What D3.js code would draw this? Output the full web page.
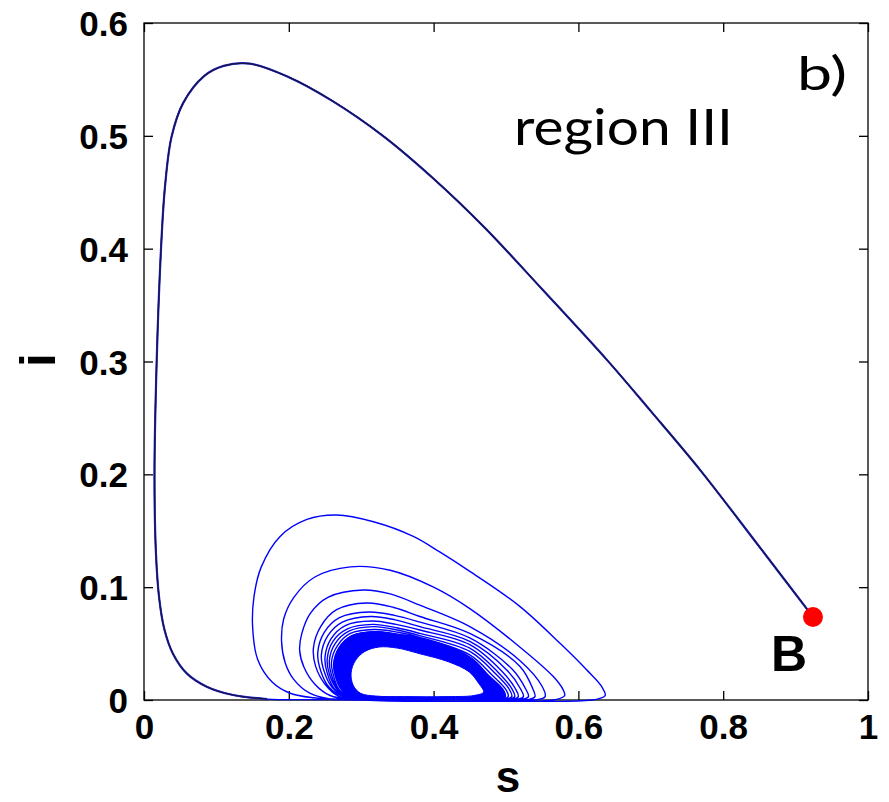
<!DOCTYPE html>
<html><head><meta charset="utf-8">
<script src="https://cdn.jsdelivr.net/npm/d3@7/dist/d3.min.js"></script>
<style>html,body{margin:0;padding:0;background:#fff;}</style>
</head><body>
<svg id="chart" width="889" height="802"></svg>
<script>
// ---- data (s, i) ----
const xTicks = [0, 0.2, 0.4, 0.6, 0.8, 1];
const yTicks = [0, 0.1, 0.2, 0.3, 0.4, 0.5, 0.6];
const xTickLabels = ["0", "0.2", "0.4", "0.6", "0.8", "1"];
const yTickLabels = ["0", "0.1", "0.2", "0.3", "0.4", "0.5", "0.6"];
const pointB = [0.924, 0.0736];

// first excursion from B (dark trajectory)
const mainPath = [[0.924,0.0736],[0.845,0.140],[0.768,0.204],[0.700,0.256],[0.640,0.301],[0.550,0.364],
  [0.470,0.419],[0.400,0.462],[0.330,0.500],[0.260,0.531],[0.200,0.552],[0.146,0.564],[0.110,0.562],
  [0.083,0.553],[0.054,0.529],[0.038,0.499],[0.029,0.455],[0.0235,0.400],[0.0175,0.300],[0.0145,0.200],
  [0.0165,0.130],[0.021,0.090],[0.028,0.063],[0.040,0.041],[0.059,0.0236],[0.0866,0.0118],
  [0.123,0.0044],[0.17,0.0008],[0.25,0.0004]];

// successive loops of the spiral (counter-clockwise)
const loop1 = [[0.625,0.0006],[0.637,0.004],[0.632,0.012],[0.611,0.027],[0.575,0.050],[0.519,0.083],
  [0.450,0.114],[0.409,0.131],[0.372,0.145],[0.317,0.158],[0.266,0.164],[0.225,0.160],[0.188,0.145],
  [0.162,0.118],[0.152,0.092],[0.150,0.065],[0.157,0.036],[0.177,0.016],[0.202,0.006],[0.234,0.002],[0.28,0.0006]];
const loop2 = [[0.570,0.0006],[0.581,0.004],[0.579,0.009],[0.565,0.021],[0.519,0.047],[0.450,0.081],
  [0.400,0.100],[0.340,0.115],[0.285,0.118],[0.236,0.109],[0.207,0.091],[0.193,0.072],[0.190,0.052],
  [0.195,0.033],[0.206,0.019],[0.229,0.006],[0.257,0.001],[0.29,0.0006]];
const loop3 = [[0.545,0.0006],[0.554,0.003],[0.550,0.012],[0.519,0.035],[0.450,0.065],[0.381,0.084],
  [0.340,0.094],[0.303,0.0975],[0.254,0.091],[0.230,0.077],[0.218,0.059],[0.215,0.044],[0.221,0.029],
  [0.236,0.014],[0.257,0.004],[0.29,0.0006]];
const loop4 = [[0.532,0.0006],[0.540,0.003],[0.537,0.010],[0.519,0.030],[0.450,0.059],[0.381,0.074],
  [0.345,0.082],[0.308,0.086],[0.266,0.080],[0.244,0.065],[0.234,0.046],[0.237,0.030],[0.250,0.014],
  [0.270,0.003],[0.30,0.0006]];
const loop5 = [[0.522,0.0006],[0.531,0.003],[0.527,0.010],[0.509,0.027],[0.450,0.055],[0.381,0.069],
  [0.346,0.075],[0.311,0.078],[0.270,0.073],[0.249,0.060],[0.240,0.042],[0.244,0.026],[0.256,0.011],
  [0.275,0.003],[0.30,0.0006]];
const loop6 = [[0.515,0.0006],[0.524,0.003],[0.520,0.010],[0.502,0.026],[0.450,0.052],[0.381,0.065],
  [0.347,0.071],[0.313,0.074],[0.274,0.069],[0.254,0.057],[0.245,0.040],[0.249,0.025],[0.260,0.011],
  [0.278,0.003],[0.30,0.0006]];
const loop7 = [[0.508,0.0006],[0.517,0.003],[0.513,0.010],[0.495,0.025],[0.450,0.049],[0.381,0.062],
  [0.348,0.067],[0.315,0.070],[0.278,0.066],[0.258,0.054],[0.250,0.038],[0.253,0.024],[0.263,0.010],
  [0.280,0.003],[0.30,0.0006]];
const loop8 = [[0.503,0.0006],[0.512,0.003],[0.508,0.010],[0.490,0.024],[0.450,0.046],[0.381,0.059],
  [0.349,0.064],[0.316,0.067],[0.281,0.063],[0.261,0.052],[0.253,0.036],[0.256,0.023],[0.266,0.010],
  [0.282,0.003],[0.30,0.0006]];
const loop9 = [[0.499,0.0006],[0.508,0.003],[0.504,0.010],[0.486,0.023],[0.450,0.043],[0.381,0.057],
  [0.350,0.062],[0.317,0.065],[0.283,0.061],[0.264,0.050],[0.256,0.035],[0.259,0.022],[0.268,0.010],
  [0.284,0.003],[0.30,0.0006]];
const loop10 = [[0.494,0.0006],[0.503,0.003],[0.499,0.010],[0.481,0.022],[0.450,0.040],[0.381,0.0555],
  [0.351,0.060],[0.318,0.0625],[0.285,0.059],[0.267,0.048],[0.259,0.034],[0.262,0.021],[0.270,0.009],
  [0.286,0.003],[0.30,0.0006]];
// dense band of loops converging to the limit cycle: outer and inner edge
const bandOuter = [[0.490,0.0006],[0.499,0.003],[0.495,0.010],[0.477,0.021],[0.450,0.038],[0.381,0.0547],
  [0.352,0.058],[0.320,0.0606],[0.287,0.057],[0.269,0.046],[0.262,0.032],[0.265,0.020],[0.273,0.009],
  [0.288,0.003],[0.30,0.0006],[0.40,0.0004]];
const bandInner = [[0.469,0.007],[0.462,0.015],[0.449,0.025],[0.420,0.034],[0.381,0.041],[0.350,0.046],
  [0.325,0.047],[0.305,0.043],[0.292,0.035],[0.286,0.024],[0.289,0.013],[0.299,0.006],[0.320,0.0035],
  [0.360,0.003],[0.420,0.003],[0.456,0.004]];

const loops = [loop1, loop2, loop3, loop4, loop5, loop6, loop7, loop8, loop9, loop10, bandOuter.slice(0, 15)];

// ---- layout ----
const svg = d3.select("#chart");
const L = 144, R = 868, T = 23, B = 700;
const x = d3.scaleLinear().domain([0, 1]).range([L, R]);
const y = d3.scaleLinear().domain([0, 0.6]).range([B, T]);
const tickFont = "'Liberation Sans', Arial, Helvetica, sans-serif";

svg.append("defs").append("clipPath").attr("id", "clip")
  .append("rect").attr("x", L).attr("y", T).attr("width", R - L).attr("height", B - T + 2);

// frame
svg.append("rect").attr("x", L).attr("y", T).attr("width", R - L).attr("height", B - T)
  .attr("fill", "none").attr("stroke", "#000").attr("stroke-width", 1.3);

// axes with inward ticks
const axB = d3.axisBottom(x).tickValues(xTicks).tickSize(-9).tickFormat((d, k) => xTickLabels[k]).tickPadding(14);
const axT = d3.axisTop(x).tickValues(xTicks).tickSize(-9).tickFormat("");
const axL = d3.axisLeft(y).tickValues(yTicks).tickSize(-9).tickFormat((d, k) => yTickLabels[k]).tickPadding(16);
const axR = d3.axisRight(y).tickValues(yTicks).tickSize(-9).tickFormat("");
function style(g) {
  g.select(".domain").remove();
  g.selectAll(".tick line").attr("stroke", "#000").attr("stroke-width", 1.3);
  g.selectAll(".tick text").attr("fill", "#000").style("font-family", tickFont)
    .style("font-weight", "bold").style("font-size", "35px");
}
svg.append("g").attr("transform", `translate(0,${B})`).call(axB).call(style)
  .selectAll(".tick text").attr("dy", "0.71em");
svg.append("g").attr("transform", `translate(0,${T})`).call(axT).call(style);
svg.append("g").attr("transform", `translate(${L},0)`).call(axL).call(style)
  .selectAll(".tick text").attr("dy", "0.36em");
svg.append("g").attr("transform", `translate(${R},0)`).call(axR).call(style);

// curves
const plot = svg.append("g").attr("clip-path", "url(#clip)");
const line = d3.line().x(d => x(d[0])).y(d => y(d[1])).curve(d3.curveCatmullRom.alpha(0.5));
const lineClosed = d3.line().x(d => x(d[0])).y(d => y(d[1])).curve(d3.curveCatmullRomClosed.alpha(0.5));

// filled band between outermost dense loop and the limit-cycle hole
plot.append("path").attr("d", lineClosed(bandOuter) + lineClosed(bandInner))
  .attr("fill", "#0000ff").attr("fill-rule", "evenodd").attr("stroke", "#0000ff").attr("stroke-width", 1);

const fullPath = mainPath.concat(...loops);
plot.append("path").attr("d", line(fullPath)).attr("fill", "none")
  .attr("stroke", "#0000ff").attr("stroke-width", 1.4);
// dark overlay on the first excursion
const darkPart = mainPath.slice(0, mainPath.length - 1);
plot.append("path").attr("d", line(darkPart)).attr("fill", "none")
  .attr("stroke", "#2a2ad0").attr("stroke-width", 2.2);
plot.append("path").attr("d", line(darkPart)).attr("fill", "none")
  .attr("stroke", "#141440").attr("stroke-width", 1.2);

// point B
svg.append("circle").attr("cx", x(pointB[0])).attr("cy", y(pointB[1])).attr("r", 10).attr("fill", "#ff0000");
svg.append("text").attr("x", 789).attr("y", 671).attr("text-anchor", "middle")
  .style("font-family", tickFont).style("font-weight", "bold").style("font-size", "50px").text("B");

// annotations
svg.append("text").attr("x", 514).attr("y", 145).attr("textLength", 219).attr("lengthAdjust", "spacingAndGlyphs")
  .style("font-family", "Lato, 'Open Sans', sans-serif").style("font-size", "51px").attr("fill", "#000").text("region III");
svg.append("text").attr("x", 797).attr("y", 90).attr("textLength", 50).attr("lengthAdjust", "spacingAndGlyphs")
  .style("font-family", "Lato, 'Open Sans', sans-serif").style("font-size", "46px").attr("fill", "#000").text("b)");

// axis titles
svg.append("text").attr("x", 508).attr("y", 792).attr("text-anchor", "middle")
  .style("font-family", tickFont).style("font-weight", "bold").style("font-size", "44px").text("s");
svg.append("text").attr("transform", "translate(55,360) rotate(-90)").attr("text-anchor", "middle")
  .style("font-family", tickFont).style("font-weight", "bold").style("font-size", "50px").text("i");
</script>
</body></html>
